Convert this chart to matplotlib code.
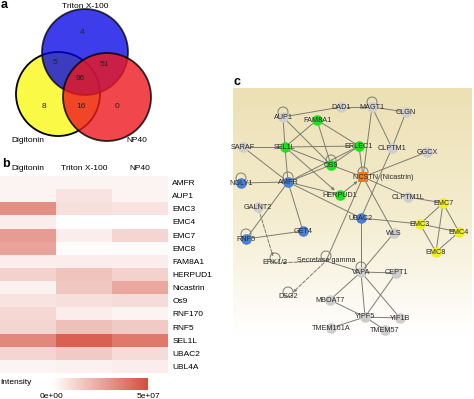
import numpy as np
import matplotlib
matplotlib.use('Agg')
import matplotlib.pyplot as plt
from matplotlib.patches import Circle
from matplotlib.colors import LinearSegmentedColormap

plt.rcParams['font.family'] = ['Liberation Sans', 'DejaVu Sans']

# ---- panel a: venn counts
venn_sets = ['Digitonin', 'Triton X-100', 'NP40']
venn_counts = {'T': 4, 'DT': 5, 'TN': 51, 'DTN': 96, 'D': 8, 'DN': 16, 'N': 0}

# ---- panel b: heatmap (intensity in units of 1e7)
conditions = ['Digitonin', 'Triton X-100', 'NP40']
proteins = ['AMFR', 'AUP1', 'EMC3', 'EMC4', 'EMC7', 'EMC8', 'FAM8A1', 'HERPUD1',
            'Nicastrin', 'Os9', 'RNF170', 'RNF5', 'SEL1L', 'UBAC2', 'UBL4A']
digitonin = [0.3, 0.3, 3.2, 0.5, 2.8, 2.6, 0.5, 1.3, 0.4, 0.8, 1.1, 1.2, 3.4, 1.2, 0.3]
triton = [0.3, 0.8, 0.9, 0.0, 0.5, 0.1, 0.5, 1.7, 1.6, 0.9, 0.5, 1.8, 4.5, 1.5, 0.4]
np40 = [0.3, 0.3, 0.8, 0.0, 1.2, 0.1, 0.5, 1.3, 2.5, 1.0, 0.3, 1.5, 3.8, 1.0, 0.5]

# ---- panel c: network
node_names = ['AUP1', 'DAD1', 'MAGT1', 'CLGN', 'FAM8A1', 'SARAF', 'SEL1L', 'ERLEC1',
              'CLPTM1', 'GGCX', 'OS9', 'NCSTN (Nicastrin)', 'NGLY1', 'AMFR', 'HERPUD1',
              'CLPTM1L', 'EMC7', 'GALNT2', 'UBAC2', 'EMC3', 'EMC4', 'WLS', 'GET4', 'RNF5',
              'EMC8', 'ERK1/2', 'Secretase gamma', 'VAPA', 'CEPT1', 'DSG2', 'MBOAT7',
              'YIPF5', 'YIF1B', 'TMEM161A', 'TMEM57']
node_group = ['grey', 'grey', 'grey', 'grey', 'green', 'grey', 'green', 'green',
              'grey', 'grey', 'green', 'orange', 'blue', 'blue', 'green',
              'grey', 'yellow', 'grey', 'blue', 'yellow', 'yellow', 'grey', 'blue', 'blue',
              'yellow', 'none', 'none', 'grey', 'grey', 'none', 'grey',
              'grey', 'grey', 'grey', 'grey']
edges = [('AUP1', 'DAD1'), ('DAD1', 'MAGT1'), ('MAGT1', 'CLGN'), ('MAGT1', 'NCSTN (Nicastrin)'),
         ('MAGT1', 'CLPTM1'), ('CLGN', 'CLPTM1'), ('CLPTM1', 'UBAC2'), ('AUP1', 'SEL1L'),
         ('AUP1', 'OS9'), ('FAM8A1', 'SEL1L'), ('FAM8A1', 'ERLEC1'), ('FAM8A1', 'OS9'),
         ('SARAF', 'SEL1L'), ('SARAF', 'AMFR'), ('SEL1L', 'ERLEC1'), ('SEL1L', 'OS9'),
         ('SEL1L', 'AMFR'), ('ERLEC1', 'OS9'), ('ERLEC1', 'AMFR'), ('ERLEC1', 'NCSTN (Nicastrin)'),
         ('OS9', 'NCSTN (Nicastrin)'), ('OS9', 'AMFR'), ('GGCX', 'NCSTN (Nicastrin)'),
         ('NCSTN (Nicastrin)', 'CLPTM1L'), ('NCSTN (Nicastrin)', 'WLS'),
         ('NCSTN (Nicastrin)', 'Secretase gamma'), ('NGLY1', 'AMFR'), ('AMFR', 'HERPUD1'),
         ('AMFR', 'UBAC2'), ('AMFR', 'GET4'), ('AMFR', 'RNF5'), ('CLPTM1L', 'EMC7'),
         ('EMC7', 'EMC3'), ('EMC7', 'EMC4'), ('EMC7', 'EMC8'), ('EMC3', 'EMC4'),
         ('EMC3', 'EMC8'), ('EMC4', 'EMC8'), ('UBAC2', 'EMC3'), ('UBAC2', 'VAPA'),
         ('GET4', 'RNF5'), ('Secretase gamma', 'VAPA'), ('VAPA', 'CEPT1'), ('VAPA', 'WLS'),
         ('VAPA', 'YIPF5'), ('VAPA', 'YIF1B'), ('VAPA', 'MBOAT7'), ('CEPT1', 'YIPF5'),
         ('MBOAT7', 'YIPF5'), ('YIPF5', 'YIF1B'), ('YIPF5', 'TMEM161A'), ('YIPF5', 'TMEM57')]
arrow_edges = [('SEL1L', 'HERPUD1', '-'), ('HERPUD1', 'NCSTN (Nicastrin)', '-'),
               ('GALNT2', 'ERK1/2', '--'), ('Secretase gamma', 'ERK1/2', '--'),
               ('Secretase gamma', 'DSG2', '--')]
self_loops = ['AUP1', 'MAGT1', 'OS9', 'NCSTN (Nicastrin)', 'NGLY1', 'AMFR', 'RNF5',
              'ERK1/2', 'Secretase gamma', 'VAPA', 'DSG2']

# layout (pixel coords in the figure)
pos = {'AUP1': (283, 117), 'DAD1': (341, 107), 'MAGT1': (372, 107), 'CLGN': (406, 112),
       'FAM8A1': (317, 120), 'SARAF': (243, 147), 'SEL1L': (285, 147), 'ERLEC1': (359, 146),
       'CLPTM1': (392, 148), 'GGCX': (427, 152), 'OS9': (331, 165),
       'NCSTN (Nicastrin)': (363, 177), 'NGLY1': (241, 183), 'AMFR': (288, 182),
       'HERPUD1': (340, 195), 'CLPTM1L': (408, 197), 'EMC7': (443, 203), 'GALNT2': (258, 207),
       'UBAC2': (361, 218), 'EMC3': (420, 224), 'EMC4': (459, 232), 'WLS': (394, 233),
       'GET4': (303, 231), 'RNF5': (246, 239), 'EMC8': (436, 252), 'ERK1/2': (275, 263),
       'Secretase gamma': (326, 261), 'VAPA': (361, 272), 'CEPT1': (396, 273),
       'DSG2': (288, 297), 'MBOAT7': (330, 300), 'YIPF5': (365, 317), 'YIF1B': (400, 318),
       'TMEM161A': (331, 328), 'TMEM57': (385, 330)}
label_off = {'NCSTN (Nicastrin)': (20, 0)}
group_colors = {'grey': '#cdcdcd', 'green': '#1ee01e', 'blue': '#4a7fd6',
                'orange': '#f07a1a', 'yellow': '#f0f01a'}

W, H = 474, 399
fig = plt.figure(figsize=(W / 100, H / 100), dpi=100)


def px_axes(x0, y0, x1, y1):
    return fig.add_axes([x0 / W, 1 - y1 / H, (x1 - x0) / W, (y1 - y0) / H])


# ================= panel a
ax = px_axes(0, 0, 160, 150)
ax.set_xlim(0, 160)
ax.set_ylim(150, 0)
ax.axis('off')
circ = [((58, 94), 42, '#fafa46', 1.0), ((85, 52), 43, '#0000e6', 0.76),
        ((107, 97), 44, '#ee181e', 0.8)]
for c, r, col, a in circ:
    ax.add_patch(Circle(c, r, facecolor=col, edgecolor='black', lw=1.3, alpha=a))
num_pos = {'T': (82, 33), 'DT': (55, 63), 'TN': (104, 65), 'DTN': (80, 79),
           'D': (44, 106), 'DN': (81, 106), 'N': (117, 106)}
for k, v in venn_counts.items():
    ax.text(*num_pos[k], str(v), fontsize=6, ha='center', va='center', color='#222222')
ax.text(28, 140, venn_sets[0], fontsize=6, ha='center', va='center')
ax.text(85, 7, venn_sets[1], fontsize=6, ha='center', va='center')
ax.text(137, 140, venn_sets[2], fontsize=6, ha='center', va='center')
fig.text(1 / W, 1 - 5 / H, 'a', fontsize=9, fontweight='bold', va='center')

# ================= panel b
cmap = LinearSegmentedColormap.from_list('wr', ['#ffffff', '#d4503f'])
mat = np.array([digitonin, triton, np40]).T
axh = px_axes(0, 176, 168, 373)
axh.imshow(mat, cmap=cmap, vmin=0, vmax=5, aspect='auto')
axh.set_xticks(range(3))
axh.set_xticklabels(conditions, fontsize=6)
axh.xaxis.tick_top()
axh.set_yticks(range(len(proteins)))
axh.set_yticklabels(proteins, fontsize=6)
axh.yaxis.tick_right()
axh.tick_params(length=0, pad=3)
for s in axh.spines.values():
    s.set_visible(False)
fig.text(2 / W, 1 - 164 / H, 'b', fontsize=9, fontweight='bold', va='center')

cax = px_axes(52, 378, 148, 390)
cax.imshow(np.linspace(0, 5e7, 100)[None, :], cmap=cmap, aspect='auto',
           extent=[0, 5e7, 0, 1])
cax.set_yticks([])
cax.set_xticks([0, 5e7])
cax.set_xticklabels(['0e+00', '5e+07'], fontsize=6)
cax.tick_params(length=0, pad=2)
for s in cax.spines.values():
    s.set_visible(False)
fig.text(0, 1 - 382 / H, 'Intensity', fontsize=6, va='center')

# ================= panel c
axn = px_axes(233, 88, 472, 336)
axn.set_xlim(233, 472)
axn.set_ylim(336, 88)
axn.axis('off')
bg = LinearSegmentedColormap.from_list('bg', ['#ece0b4', '#f4ecce', '#ffffff'])
axn.imshow(np.linspace(0, 1, 200)[:, None], cmap=bg, aspect='auto',
           extent=[233, 472, 336, 88], zorder=0)
axn.set_ylim(336, 88)

ec = '#7c7c72'
for a, b in edges:
    (x0, y0), (x1, y1) = pos[a], pos[b]
    axn.plot([x0, x1], [y0, y1], color=ec, lw=0.7, zorder=1)
for a, b, ls in arrow_edges:
    axn.annotate('', xy=pos[b], xytext=pos[a], zorder=1,
                 arrowprops=dict(arrowstyle='-|>', color=ec, lw=0.7, ls=ls,
                                 mutation_scale=4, shrinkA=2, shrinkB=5))
for n in self_loops:
    x, y = pos[n]
    axn.add_patch(Circle((x, y - 5), 5, facecolor='none', edgecolor=ec, lw=0.7, zorder=1))

for n, g in zip(node_names, node_group):
    if g == 'none':
        continue
    x, y = pos[n]
    mk = 's' if g == 'orange' else 'o'
    axn.scatter([x], [y], s=58, marker=mk, color=group_colors[g], zorder=2, linewidths=0)
for n in node_names:
    x, y = pos[n]
    dx, dy = label_off.get(n, (0, 0))
    axn.text(x + dx, y + dy, n, fontsize=5.2, ha='center', va='center', color='#2a2a2a', zorder=3)
fig.text(234 / W, 1 - 82 / H, 'c', fontsize=9, fontweight='bold', va='center')

fig.savefig('out.png', dpi=100)
